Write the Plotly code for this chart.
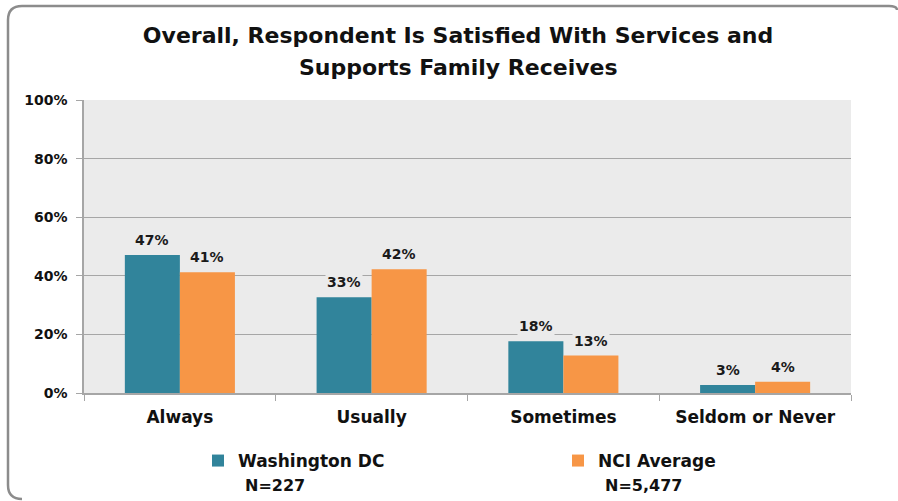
import plotly.graph_objects as go

categories = ["Always", "Usually", "Sometimes", "Seldom or Never"]
dc_values = [47.1, 32.7, 17.7, 2.7]
nci_values = [41.2, 42.2, 12.8, 3.8]
dc_labels = ["47%", "33%", "18%", "3%"]
nci_labels = ["41%", "42%", "13%", "4%"]
series_names = ["Washington DC", "NCI Average"]
series_n = ["N=227", "N=5,477"]
title_lines = ["Overall, Respondent Is Satisfied With Services and", "Supports Family Receives"]
y_ticks = [0, 20, 40, 60, 80, 100]
y_ticklabels = ["0%", "20%", "40%", "60%", "80%", "100%"]

DC_COLOR = "#31849b"
NCI_COLOR = "#f79646"
FONT = "DejaVu Sans"

W, H = 898, 501
L, R, T, B = 84, 47, 100, 108
PW, PH = W - L - R, H - T - B


def px(x):
    return (x - L) / PW


def py(y):
    return (H - B - y) / PH


fig = go.Figure()
fig.add_trace(go.Bar(x=categories, y=dc_values, name=series_names[0], legend="legend",
                     marker=dict(color=DC_COLOR, line=dict(width=0))))
fig.add_trace(go.Bar(x=categories, y=nci_values, name=series_names[1], legend="legend2",
                     marker=dict(color=NCI_COLOR, line=dict(width=0))))

bar_w = 55
for i, c in enumerate(categories):
    for vals, labs, shift in ((dc_values, dc_labels, -bar_w / 2), (nci_values, nci_labels, bar_w / 2)):
        fig.add_annotation(x=c, y=vals[i], text=labs[i], showarrow=False,
                           xshift=shift, yshift=15, yanchor="middle",
                           bgcolor="#ebebeb", borderpad=1,
                           font=dict(family=FONT, size=14, color="#1a1a1a", weight="bold"))

# N lines under legend entries
for n_text, xpix in zip(series_n, (243, 603)):
    fig.add_annotation(text=n_text, xref="paper", yref="paper", x=px(xpix), y=py(485),
                       xanchor="left", yanchor="middle", showarrow=False,
                       font=dict(family=FONT, size=16, color="#111111", weight="bold"))

# title second line
fig.add_annotation(text=title_lines[1], xref="paper", yref="paper", x=px(458), y=py(68),
                   xanchor="center", yanchor="middle", showarrow=False,
                   font=dict(family=FONT, size=22, color="#111111", weight="bold"))

# outer rounded border (left, top, top-right corner)
r = 14
x0, x1, y0, y1 = 8, 897, 6, 499
path = (f"M {px(x0 + r)},{py(y1)} Q {px(x0)},{py(y1)} {px(x0)},{py(y1 - r)} "
        f"L {px(x0)},{py(y0 + r)} Q {px(x0)},{py(y0)} {px(x0 + r)},{py(y0)} "
        f"L {px(x1 - 8)},{py(y0)} Q {px(x1)},{py(y0)} {px(x1)},{py(y0 + 4)}")
fig.add_shape(type="path", path=path, xref="paper", yref="paper",
              line=dict(color="#8c8c8c", width=2.5), layer="above")

legend_common = dict(orientation="h", xanchor="left", yanchor="middle",
                     xref="container", yref="container",
                     font=dict(family=FONT, size=17, color="#111111", weight="bold"),
                     bgcolor="rgba(0,0,0,0)")

fig.update_layout(
    width=W, height=H,
    margin=dict(l=L, r=R, t=T, b=B, autoexpand=False),
    paper_bgcolor="white", plot_bgcolor="#ebebeb",
    barmode="group", bargap=0.426, bargroupgap=0,
    title=dict(text=title_lines[0],
               x=458 / W, xanchor="center", xref="container",
               y=1 - 35 / H, yanchor="middle", yref="container",
               font=dict(family=FONT, size=22, color="#111111", weight="bold")),
    showlegend=True,
    legend=dict(x=198 / W, y=1 - 461 / H, **legend_common),
    legend2=dict(x=558 / W, y=1 - 461 / H, **legend_common),
    font=dict(family=FONT),
)
fig.update_yaxes(range=[0, 100], tickvals=y_ticks, ticktext=y_ticklabels,
                 showgrid=True, gridcolor="#a6a6a6", gridwidth=1.3,
                 showline=True, linecolor="#a6a6a6", linewidth=1.5,
                 ticks="outside", ticklen=6, tickcolor="#a6a6a6", ticklabelstandoff=6,
                 tickfont=dict(family=FONT, size=14, color="#111111", weight="bold"),
                 zeroline=False, fixedrange=True, automargin=False)
fig.update_xaxes(showline=True, linecolor="#a6a6a6", linewidth=1.5,
                 ticks="outside", ticklen=6, tickcolor="#a6a6a6",
                 tickson="boundaries", ticklabelstandoff=8,
                 tickfont=dict(family=FONT, size=17, color="#111111", weight="bold"),
                 fixedrange=True, automargin=False)

fig.write_html("out.html", config={"displayModeBar": False},
               post_script="document.body.style.margin='0';document.body.style.overflow='hidden';")
